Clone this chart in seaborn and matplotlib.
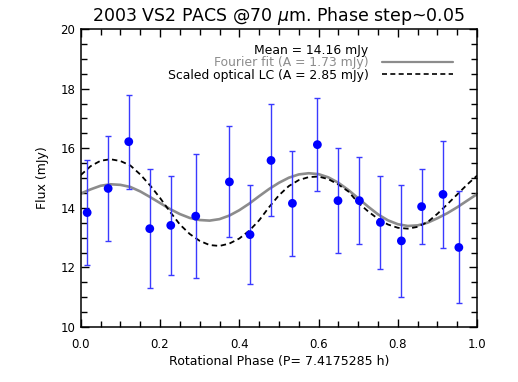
import numpy as np
import pandas as pd
import matplotlib
matplotlib.use("Agg")
import matplotlib.pyplot as plt
from matplotlib.ticker import MultipleLocator
from matplotlib.lines import Line2D
import seaborn as sns

# PACS 70 micron photometry, folded on the rotation period
phase = [0.016, 0.069, 0.121, 0.174, 0.227, 0.290, 0.375, 0.427, 0.480,
         0.534, 0.597, 0.649, 0.703, 0.756, 0.809, 0.860, 0.914, 0.954]
flux = [13.84, 14.65, 16.22, 13.30, 13.41, 13.72, 14.87, 13.10, 15.59,
        14.15, 16.12, 14.24, 14.24, 13.51, 12.89, 14.04, 14.45, 12.67]
flux_err = [1.76, 1.77, 1.58, 1.99, 1.67, 2.08, 1.86, 1.65, 1.88,
            1.77, 1.55, 1.76, 1.45, 1.57, 1.88, 1.25, 1.79, 1.88]

# model curves every 0.025 in phase
curve_phase = [i * 0.025 for i in range(41)]
fourier_fit = [14.48, 14.62, 14.74, 14.79, 14.77, 14.70, 14.55, 14.36, 14.16, 13.96,
               13.79, 13.66, 13.59, 13.57, 13.62, 13.74, 13.92, 14.14, 14.39, 14.63,
               14.84, 15.01, 15.12, 15.16, 15.13, 15.02, 14.84, 14.60, 14.32, 14.04,
               13.78, 13.58, 13.45, 13.39, 13.41, 13.50, 13.65, 13.82, 14.02, 14.24,
               14.46]
optical_lc = [15.10, 15.40, 15.58, 15.63, 15.57, 15.42, 15.12, 14.75, 14.33, 13.87,
              13.44, 13.12, 12.89, 12.75, 12.72, 12.80, 12.97, 13.23, 13.58, 14.02,
              14.42, 14.73, 14.93, 15.03, 15.05, 14.96, 14.78, 14.55, 14.17, 13.88,
              13.63, 13.44, 13.33, 13.30, 13.36, 13.52, 13.80, 14.12, 14.45, 14.78,
              15.08]

mean_flux = 14.16
amp_fourier = 1.73
amp_optical = 2.85

pts = pd.DataFrame({"phase": phase, "flux": flux, "err": flux_err})
curves = pd.DataFrame({"phase": curve_phase, "fourier": fourier_fit, "optical": optical_lc})

sns.set_style("ticks")
plt.rcParams["font.family"] = ["DejaVu Sans"]
plt.rcParams["text.color"] = "black"
plt.rcParams["axes.labelcolor"] = "black"
plt.rcParams["xtick.color"] = "black"
plt.rcParams["ytick.color"] = "black"

fig = plt.figure(figsize=(5.18, 3.82), dpi=100)
ax = fig.add_axes([0.156, 0.144, 0.765, 0.780])

sns.lineplot(data=curves, x="phase", y="fourier", ax=ax, color="#8c8c8c", lw=1.9)
sns.lineplot(data=curves, x="phase", y="optical", ax=ax, color="black", lw=1.3,
             linestyle=(0, (3, 2)))
ax.errorbar(pts["phase"], pts["flux"], yerr=pts["err"], fmt="none",
            ecolor="#3a3aff", elinewidth=1, capsize=2.5, capthick=1)
sns.scatterplot(data=pts, x="phase", y="flux", ax=ax, color="#0000ff",
                s=40, edgecolor="none", zorder=5)

ax.set_xlim(0, 1)
ax.set_ylim(10, 20)
ax.xaxis.set_major_locator(MultipleLocator(0.2))
ax.xaxis.set_minor_locator(MultipleLocator(0.05))
ax.yaxis.set_major_locator(MultipleLocator(2))
ax.yaxis.set_minor_locator(MultipleLocator(0.5))
ax.xaxis.set_major_formatter(plt.FuncFormatter(lambda v, p: f"{v:.1f}"))
ax.tick_params(which="both", direction="in", top=True, right=True,
               labelsize=8.5, width=1, color="black", labelcolor="black")
ax.tick_params(which="major", length=6)
ax.tick_params(which="minor", length=4.5)
ax.tick_params(axis="x", pad=8)
ax.tick_params(axis="y", pad=4)
for s in ax.spines.values():
    s.set_linewidth(1.1)
    s.set_color("black")

ax.set_xlabel("Rotational Phase (P= 7.4175285 h)", fontsize=9, labelpad=3, color="black")
ax.set_ylabel("Flux (mJy)", fontsize=9, labelpad=8, color="black")
ax.set_title(r"2003 VS2 PACS @70 $\mu$m. Phase step~0.05", fontsize=12.5, pad=6,
             color="black")

handles = [Line2D([], [], color="none"),
           Line2D([], [], color="#8c8c8c", lw=1.6),
           Line2D([], [], color="black", lw=1.2, linestyle=(0, (3, 2)))]
labels = [f"Mean = {mean_flux:.2f} mJy",
          f"Fourier fit (A = {amp_fourier:.2f} mJy)",
          f"Scaled optical LC (A = {amp_optical:.2f} mJy)"]
leg = ax.legend(handles, labels, loc="upper right", bbox_to_anchor=(0.957, 0.975),
                frameon=False, markerfirst=False, fontsize=8.9, handlelength=5.7,
                handletextpad=1.1, labelspacing=-0.05, borderpad=0.1,
                labelcolor=["black", "#8c8c8c", "black"])

fig.savefig("out.png", dpi=100)
